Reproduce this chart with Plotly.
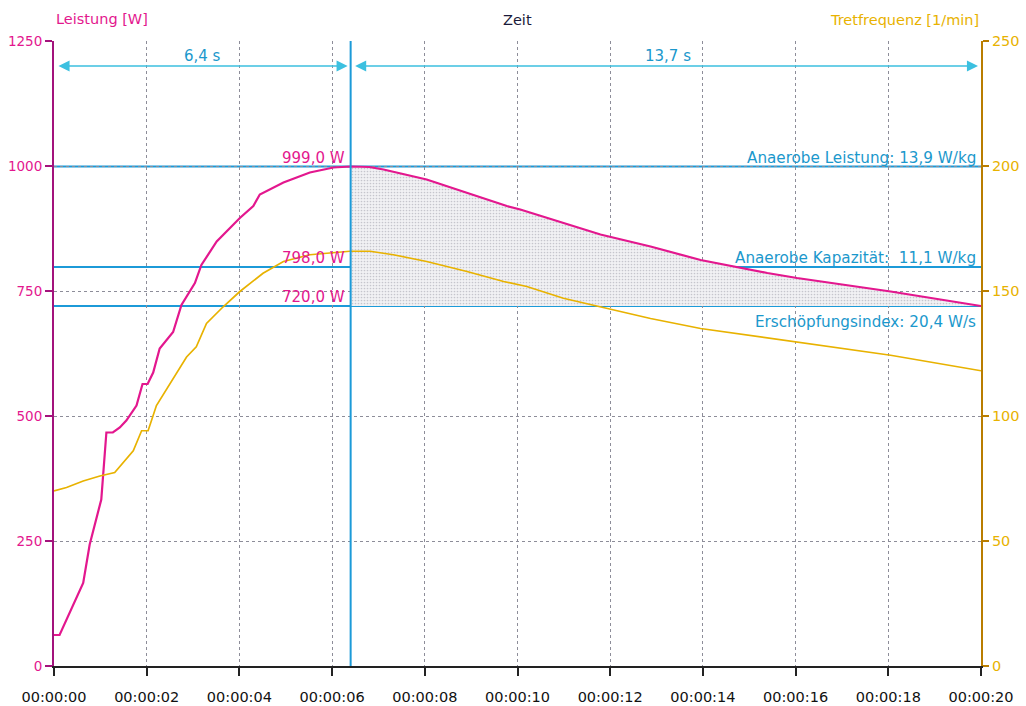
import plotly.graph_objects as go

# Sprint test: power and cadence over time (seconds)
power_t = [0.00, 0.12, 0.63, 0.77, 1.02, 1.13, 1.27, 1.42, 1.56, 1.78, 1.91, 2.02,
           2.14, 2.28, 2.57, 2.75, 3.04, 3.18, 3.51, 4.01, 4.30, 4.44, 4.95, 5.52,
           6.03, 6.40, 6.80, 7.11, 8.04, 8.91, 9.77, 10.06, 11.07, 11.79, 12.87,
           13.95, 15.39, 16.03, 18.05, 20.00]
power_w = [62, 62, 166, 243, 333, 467, 467, 477, 491, 521, 564, 564,
           587, 635, 668, 722, 766, 802, 849, 896, 920, 943, 967, 987,
           997, 999, 998, 993, 973, 947, 920, 913, 883, 863, 839,
           812, 786, 776, 749, 720]

cadence_t = [0.00, 0.27, 0.63, 0.99, 1.31, 1.71, 1.89, 2.03, 2.21, 2.43, 2.86, 3.07,
             3.29, 3.65, 4.01, 4.51, 4.95, 5.52, 6.03, 6.38, 6.82, 7.32, 8.04, 8.91,
             9.70, 10.20, 10.99, 11.79, 12.87, 13.95, 16.03, 18.05, 20.00]
cadence_rpm = [70.0, 71.4, 74.0, 76.0, 77.4, 86.1, 94.1, 94.1, 104.2, 110.9, 123.6, 127.7,
               137.0, 143.7, 149.8, 157.1, 161.8, 164.5, 165.5, 165.9, 165.9, 164.5, 161.8, 157.8,
               153.8, 151.8, 147.1, 143.7, 139.0, 135.0, 129.7, 124.3, 118.1]

# Key results
peak_time = 6.4          # time to peak power [s]
decay_time = 13.7        # time from peak to end [s]
peak_power = 999.0       # W
mean_power = 798.0       # W
min_power = 720.0        # W
result_labels = ["Anaerobe Leistung: 13,9 W/kg",
                 "Anaerobe Kapazität:  11,1 W/kg",
                 "Erschöpfungsindex: 20,4 W/s"]

time_ticks = list(range(0, 21, 2))
time_labels = ["00:00:%02d" % s for s in time_ticks]
power_ticks = [0, 250, 500, 750, 1000, 1250]
cadence_ticks = [0, 50, 100, 150, 200, 250]

MAGENTA = "#e3178e"
MAGENTA_AX = "#a3137c"
GOLD = "#e8b200"
GOLD_AX = "#b97d00"
BLUE = "#1c9ad8"
BLUE_TXT = "#1b98cc"
ARROW = "#3cc0e0"
FONT = "DejaVu Sans"

fig = go.Figure()

# shaded area between the power curve and minimum power, after the peak
seg_t = [t for t in power_t if t >= peak_time]
seg_w = [w for t, w in zip(power_t, power_w) if t >= peak_time]
fig.add_trace(go.Scatter(x=[seg_t[0], seg_t[-1]], y=[min_power, min_power],
                         mode="lines", line=dict(width=0), hoverinfo="skip",
                         showlegend=False))
fig.add_trace(go.Scatter(x=seg_t, y=seg_w, mode="lines", line=dict(width=0),
                         fill="tonexty", fillcolor="rgba(236,236,240,0.9)",
                         fillpattern=dict(shape=".", fgcolor="#9a9aa6", bgcolor="#f1f1f4",
                                          size=3, solidity=0.25),
                         hoverinfo="skip", showlegend=False))

fig.add_trace(go.Scatter(x=cadence_t, y=cadence_rpm, yaxis="y2", mode="lines",
                         line=dict(color=GOLD, width=1.7), showlegend=False))
fig.add_trace(go.Scatter(x=power_t, y=power_w, mode="lines",
                         line=dict(color=MAGENTA, width=2.2), showlegend=False))

shapes = []
for level in (peak_power, mean_power, min_power):
    shapes.append(dict(type="line", xref="x", yref="y", x0=0, x1=20, y0=level, y1=level,
                       line=dict(color=BLUE, width=2), layer="below"))
shapes.append(dict(type="line", xref="x", yref="paper", x0=peak_time, x1=peak_time,
                   y0=0, y1=1, line=dict(color=BLUE, width=2)))

annotations = []
arrow_y = 1200
# double-headed duration arrows
for a, b in ((0, peak_time), (peak_time, peak_time + decay_time)):
    b = min(b, 20)
    annotations.append(dict(x=b, y=arrow_y, ax=a, ay=arrow_y, xref="x", yref="y",
                            axref="x", ayref="y", text="", showarrow=True,
                            arrowside="end+start", arrowhead=2, arrowsize=1.7,
                            arrowwidth=1.3, arrowcolor=ARROW,
                            standoff=3, startstandoff=3))
annotations.append(dict(x=3.2, y=arrow_y, xref="x", yref="y", text="6,4 s",
                        showarrow=False, yanchor="bottom", yshift=-1,
                        font=dict(family=FONT, size=15, color=BLUE_TXT)))
annotations.append(dict(x=13.25, y=arrow_y, xref="x", yref="y",
                        text="13,7 s", showarrow=False, yanchor="bottom", yshift=-1,
                        font=dict(family=FONT, size=15, color=BLUE_TXT)))

for level in (peak_power, mean_power, min_power):
    annotations.append(dict(x=peak_time, y=level, xref="x", yref="y",
                            text=("%.1f W" % level).replace(".", ","),
                            showarrow=False, xanchor="right", yanchor="bottom",
                            xshift=-4, yshift=-2,
                            font=dict(family=FONT, size=15, color=MAGENTA)))

annotations.append(dict(x=20, y=peak_power, xref="x", yref="y", text=result_labels[0],
                        showarrow=False, xanchor="right", yanchor="bottom", xshift=-3,
                        yshift=-2, font=dict(family=FONT, size=15.2, color=BLUE_TXT)))
annotations.append(dict(x=20, y=mean_power, xref="x", yref="y", text=result_labels[1],
                        showarrow=False, xanchor="right", yanchor="bottom", xshift=-3,
                        yshift=-2, font=dict(family=FONT, size=15.2, color=BLUE_TXT)))
annotations.append(dict(x=20, y=min_power, xref="x", yref="y", text=result_labels[2],
                        showarrow=False, xanchor="right", yanchor="top", xshift=-3,
                        yshift=-5, font=dict(family=FONT, size=15.2, color=BLUE_TXT)))

# axis titles
annotations.append(dict(x=0, y=1, xref="paper", yref="paper", text="Leistung [W]",
                        showarrow=False, xanchor="left", yanchor="bottom", yshift=12,
                        font=dict(family=FONT, size=14.5, color=MAGENTA)))
annotations.append(dict(x=0.5, y=1, xref="paper", yref="paper", text="Zeit",
                        showarrow=False, xanchor="center", yanchor="bottom", yshift=11,
                        font=dict(family=FONT, size=14.5, color="#1a1a3a")))
annotations.append(dict(x=1, y=1, xref="paper", yref="paper", text="Tretfrequenz [1/min]",
                        showarrow=False, xanchor="right", yanchor="bottom", yshift=11,
                        font=dict(family=FONT, size=14.5, color=GOLD)))

fig.update_layout(
    width=1026, height=706,
    margin=dict(l=54, r=45, t=41, b=40),
    paper_bgcolor="white", plot_bgcolor="white",
    showlegend=False,
    font=dict(family=FONT),
    shapes=shapes,
    annotations=annotations,
    xaxis=dict(range=[0, 20], tickvals=time_ticks, ticktext=time_labels,
               automargin=False,
               showgrid=True, gridcolor="#8d8d99", griddash="dot", gridwidth=1,
               zeroline=False, showline=True, linecolor="#222", linewidth=2,
               ticks="outside", ticklen=8, tickwidth=2, tickcolor="#222",
               ticklabelstandoff=9,
               tickfont=dict(family=FONT, size=14.5, color="#111")),
    yaxis=dict(range=[0, 1250], tickvals=power_ticks, automargin=False,
               showgrid=True, gridcolor="#8d8d99", griddash="dot", gridwidth=1,
               zeroline=False, showline=True, linecolor=MAGENTA_AX, linewidth=2,
               ticks="outside", ticklen=7, tickwidth=1.5, tickcolor=MAGENTA_AX,
               tickfont=dict(family=FONT, size=13.5, color=MAGENTA)),
    yaxis2=dict(range=[0, 250], tickvals=cadence_ticks, overlaying="y", side="right",
                automargin=False,
                showgrid=False, zeroline=False, showline=True, linecolor=GOLD_AX,
                linewidth=2, ticks="outside", ticklen=6, tickwidth=1.5, tickcolor=GOLD_AX,
                tickfont=dict(family=FONT, size=14.5, color=GOLD)),
)

fig.write_html("out.html")
